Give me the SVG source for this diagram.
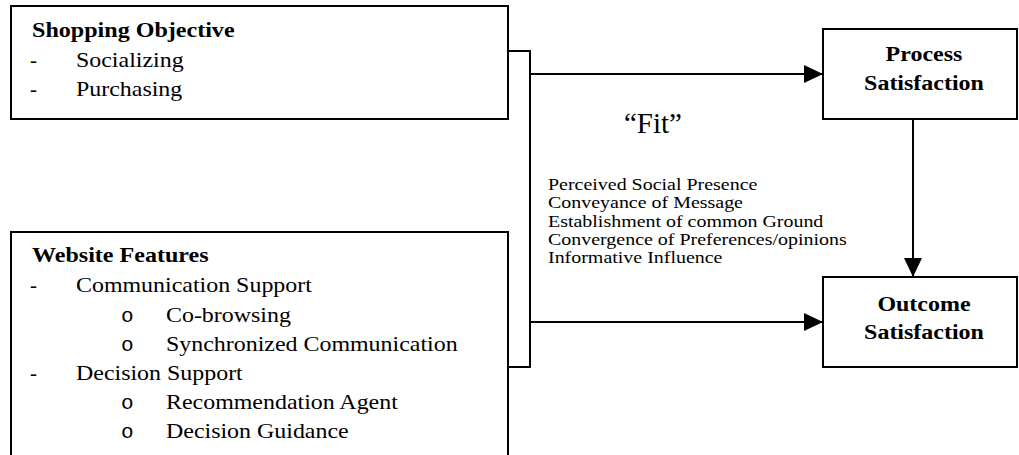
<svg xmlns="http://www.w3.org/2000/svg" width="1019" height="455" viewBox="0 0 1019 455">
<style>
.box{fill:#fff;stroke:#000;stroke-width:2}
.ln{fill:none;stroke:#000;stroke-width:2}
.hd{font-family:"Liberation Serif","Times New Roman",serif;font-weight:bold;font-size:21.5px;fill:#000}
.rg{font-family:"Liberation Serif","Times New Roman",serif;font-size:21px;fill:#000}
.bl{font-family:"Liberation Mono","Courier New",monospace;font-size:21px;fill:#000}
.ct{font-family:"Liberation Serif","Times New Roman",serif;font-weight:bold;font-size:22px;fill:#000;text-anchor:middle}
.sm{font-family:"Liberation Serif","Times New Roman",serif;font-size:16.5px;fill:#000}
.fit{font-family:"Liberation Serif","Times New Roman",serif;font-size:29px;fill:#000}
</style>
<defs>
<marker id="ah" markerWidth="19" markerHeight="18" refX="19" refY="9" orient="auto" markerUnits="userSpaceOnUse">
<path d="M0,0 L19,9 L0,18 Z" fill="#000"/>
</marker>
</defs>
<rect width="1019" height="455" fill="#fff"/>
<g id="connectors">
<path class="ln" d="M508,51 H530 V367 H508"/>
<path class="ln" d="M530,74 H823" marker-end="url(#ah)"/>
<path class="ln" d="M530,322 H823" marker-end="url(#ah)"/>
<path class="ln" d="M913,119 V277" marker-end="url(#ah)"/>
</g>
<g id="shopping-objective">
<rect class="box" x="11" y="6" width="497" height="113"/>
<text class="hd" x="32" y="37" transform="matrix(1.12 0 0 1 -3.84 0)">Shopping Objective</text>
<text class="rg" x="30" y="67">-</text>
<text class="rg" x="76" y="67" transform="matrix(1.14 0 0 1 -10.64 0)">Socializing</text>
<text class="rg" x="30" y="96">-</text>
<text class="rg" x="76" y="96" transform="matrix(1.14 0 0 1 -10.64 0)">Purchasing</text>
</g>
<g id="website-features">
<path class="box" d="M11,460 V232 H508 V460"/>
<text class="hd" x="32" y="262" transform="matrix(1.12 0 0 1 -3.84 0)">Website Features</text>
<text class="rg" x="30" y="292">-</text>
<text class="rg" x="76" y="292" transform="matrix(1.14 0 0 1 -10.64 0)">Communication Support</text>
<text class="bl" x="121" y="322">o</text>
<text class="rg" x="166" y="322" transform="matrix(1.14 0 0 1 -23.24 0)">Co-browsing</text>
<text class="bl" x="121" y="351">o</text>
<text class="rg" x="166" y="351" transform="matrix(1.14 0 0 1 -23.24 0)">Synchronized Communication</text>
<text class="rg" x="30" y="380">-</text>
<text class="rg" x="76" y="380" transform="matrix(1.14 0 0 1 -10.64 0)">Decision Support</text>
<text class="bl" x="121" y="409">o</text>
<text class="rg" x="166" y="409" transform="matrix(1.14 0 0 1 -23.24 0)">Recommendation Agent</text>
<text class="bl" x="121" y="438">o</text>
<text class="rg" x="166" y="438" transform="matrix(1.14 0 0 1 -23.24 0)">Decision Guidance</text>
</g>
<g id="process-satisfaction">
<rect class="box" x="823" y="29" width="194" height="90"/>
<text class="ct" x="924" y="61" transform="matrix(1.09 0 0 1 -83.16 0)">Process</text>
<text class="ct" x="924" y="90" transform="matrix(1.09 0 0 1 -83.16 0)">Satisfaction</text>
</g>
<g id="outcome-satisfaction">
<rect class="box" x="823" y="277" width="194" height="90"/>
<text class="ct" x="924" y="311" transform="matrix(1.09 0 0 1 -83.16 0)">Outcome</text>
<text class="ct" x="924" y="339" transform="matrix(1.09 0 0 1 -83.16 0)">Satisfaction</text>
</g>
<g id="fit-label">
<text class="fit" x="624" y="133">“Fit”</text>
<text class="sm" x="548" y="190" transform="matrix(1.21 0 0 1 -115.08 0)">Perceived Social Presence</text>
<text class="sm" x="548" y="208" transform="matrix(1.21 0 0 1 -115.08 0)">Conveyance of Message</text>
<text class="sm" x="548" y="227" transform="matrix(1.21 0 0 1 -115.08 0)">Establishment of common Ground</text>
<text class="sm" x="548" y="245" transform="matrix(1.21 0 0 1 -115.08 0)">Convergence of Preferences/opinions</text>
<text class="sm" x="548" y="263" transform="matrix(1.21 0 0 1 -115.08 0)">Informative Influence</text>
</g>
</svg>
